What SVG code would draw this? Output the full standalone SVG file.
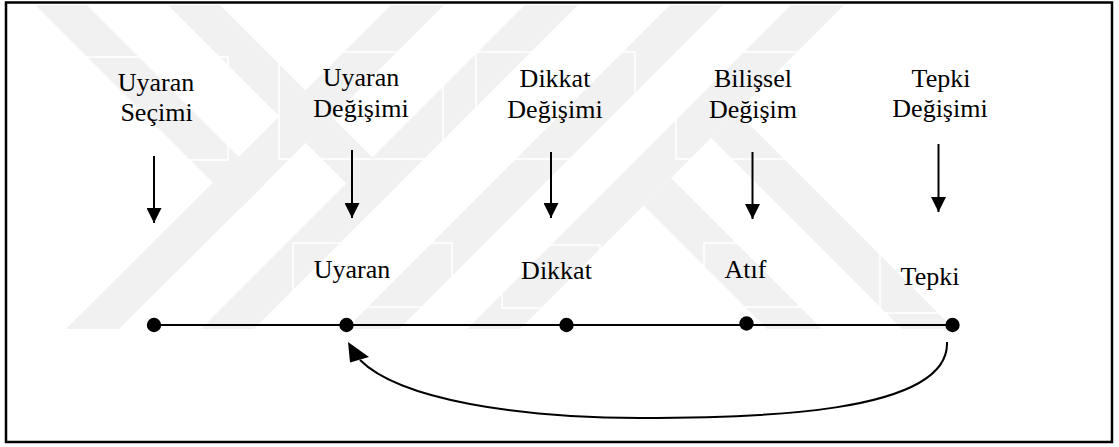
<svg xmlns="http://www.w3.org/2000/svg" width="1119" height="447" viewBox="0 0 1119 447">
<style>
.wm{fill:#f1f1f1;stroke:none}
.tb{fill:none;stroke:#ffffff;stroke-width:1.5}
text{font-family:'Liberation Serif','Times New Roman',Times,serif;font-size:26px;fill:#000;text-anchor:middle}
.arr{stroke:#000;stroke-width:2;fill:none}
.dot{fill:#000}
</style>
<defs>
<marker id="ah" markerUnits="userSpaceOnUse" markerWidth="15" markerHeight="15" refX="15" refY="7.5" orient="auto" viewBox="0 0 15 15">
<path d="M0,0 L15,7.5 L0,15 z" fill="#000"/>
</marker>
</defs>
<rect x="0" y="0" width="1119" height="447" fill="#ffffff"/>
<g id="watermark">
<polygon class="wm" points="391,5 444,5 119,329 66,329"/>
<polygon class="wm" points="525,5 578,5 254,329 201,329"/>
<polygon class="wm" points="670,5 723,5 399,329 346,329"/>
<polygon class="wm" points="791,5 844,5 520,329 467,329"/>
<polygon class="wm" points="35,5 87,5 265.5,183.5 239.5,209.5"/>
<polygon class="wm" points="168,5 220,5 399,184 373,210"/>
<polygon class="wm" points="643.5,205.5 671,178 822,329 767,329"/>
<polygon class="wm" points="711,138 737,112 954,329 902,329"/>
</g>
<g id="textboxes">
<rect class="tb" x="85" y="57" width="143" height="103"/>
<rect class="tb" x="279" y="52" width="164" height="107"/>
<rect class="tb" x="476" y="52" width="159" height="107"/>
<rect class="tb" x="676" y="52" width="129" height="107"/>
<rect class="tb" x="293" y="243" width="159" height="64"/>
<rect class="tb" x="502" y="245" width="98" height="63"/>
<rect class="tb" x="704" y="243" width="96" height="64"/>
<rect class="tb" x="880" y="252" width="120" height="61"/>
</g>
<rect id="frame" x="6" y="2.5" width="1106" height="439.5" fill="none" stroke="#000" stroke-width="2.5"/>
<g font-family="Liberation Serif, serif" font-size="26" text-anchor="middle">
<g id="stage-uyaran-secimi">
<text x="156" y="91">Uyaran</text>
<text x="156.5" y="121">Seçimi</text>
</g>
<g id="stage-uyaran-degisimi">
<text x="361" y="86">Uyaran</text>
<text x="361" y="117">Değişimi</text>
</g>
<g id="stage-dikkat-degisimi">
<text x="555" y="87">Dikkat</text>
<text x="555" y="118">Değişimi</text>
</g>
<g id="stage-bilissel-degisim">
<text x="753" y="87">Bilişsel</text>
<text x="753" y="118">Değişim</text>
</g>
<g id="stage-tepki-degisimi">
<text x="941" y="87">Tepki</text>
<text x="940" y="117">Değişimi</text>
</g>
</g>
<g id="connectors">
<line class="arr" x1="154" y1="156" x2="154" y2="223" marker-end="url(#ah)"/>
<line class="arr" x1="352" y1="150" x2="352" y2="218" marker-end="url(#ah)"/>
<line class="arr" x1="551" y1="152" x2="551" y2="218" marker-end="url(#ah)"/>
<line class="arr" x1="752.5" y1="152" x2="752.5" y2="219" marker-end="url(#ah)"/>
<line class="arr" x1="938.5" y1="144" x2="938.5" y2="212" marker-end="url(#ah)"/>
<line class="arr" x1="154" y1="325" x2="952" y2="325"/>
<path class="arr" stroke-width="1.6" d="M947,342 C950,415 750,418 640,418 C520,418 400,400 360,360"/>
<polygon points="348,342 350,362.5 369,357" fill="#000"/>
</g>
<g font-family="Liberation Serif, serif" font-size="26" text-anchor="middle">
<g id="event-start">
<circle class="dot" cx="154" cy="325" r="7.2"/>
</g>
<g id="event-uyaran">
<circle class="dot" cx="346.5" cy="325" r="7.2"/>
<text x="352" y="278">Uyaran</text>
</g>
<g id="event-dikkat">
<circle class="dot" cx="566.5" cy="325" r="7.2"/>
<text x="556.5" y="279">Dikkat</text>
</g>
<g id="event-atif">
<circle class="dot" cx="746.5" cy="323.5" r="7.2"/>
<text x="745.5" y="278">Atıf</text>
</g>
<g id="event-tepki">
<circle class="dot" cx="952.5" cy="325" r="7.2"/>
<text x="930" y="285">Tepki</text>
</g>
</g>
</svg>
